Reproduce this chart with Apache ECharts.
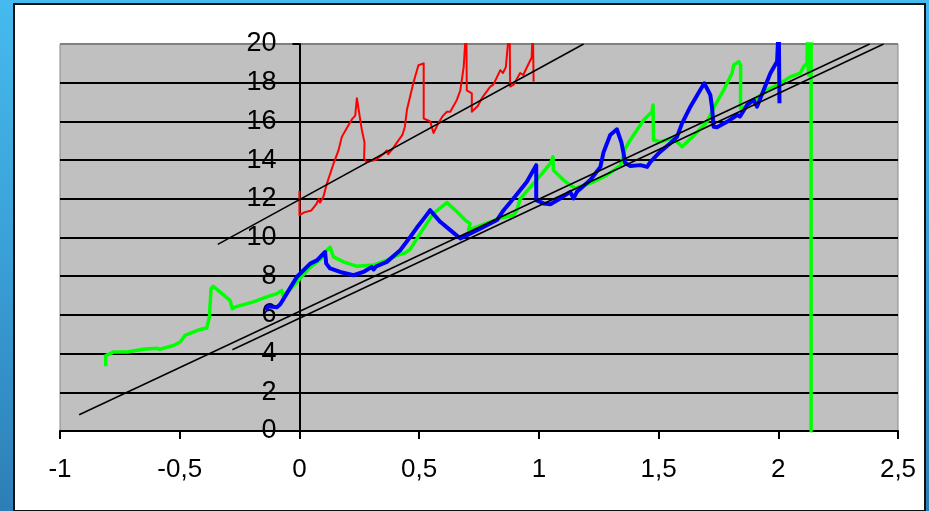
<!DOCTYPE html>
<html>
<head>
<meta charset="utf-8">
<script src="https://cdn.jsdelivr.net/npm/echarts@6/dist/echarts.min.js"></script>
<style>
  html, body { margin: 0; padding: 0; }
  body { width: 929px; height: 511px; overflow: hidden;
         background: linear-gradient(180deg, #45baee 0%, #3aa0d6 50%, #2c7fb6 100%); position: relative; }
  #panel { position: absolute; left: 13px; top: 3px; width: 909px; height: 505px;
           background: #ffffff; border: 2px solid #111; }
  #chart { position: absolute; left: 0; top: 0; width: 929px; height: 511px; }
</style>
</head>
<body>
<div id="panel"></div>
<div id="chart"></div>
<script>
// ---- data ----
const xTicks = [-1, -0.5, 0, 0.5, 1, 1.5, 2, 2.5];
const yTicks = [0, 2, 4, 6, 8, 10, 12, 14, 16, 18, 20];

const redPts = [
  [0,12.4],[0,11.15],[0.02,11.3],[0.05,11.4],[0.072,11.75],[0.08,12.0],[0.086,11.8],[0.1,12.1],
  [0.115,12.8],[0.142,13.8],[0.163,14.5],[0.177,15.2],[0.2,15.7],[0.219,16.1],[0.233,16.3],
  [0.24,17.2],[0.245,16.8],[0.26,15.6],[0.272,14.9],[0.27,14.1],[0.28,13.9],[0.316,14.0],
  [0.35,14.3],[0.365,14.5],[0.37,14.3],[0.39,14.6],[0.407,14.9],[0.43,15.3],[0.44,15.7],
  [0.449,16.6],[0.476,18.0],[0.497,18.9],[0.519,19.0],[0.519,16.15],[0.546,16.0],[0.56,15.4],
  [0.58,15.9],[0.6,16.3],[0.616,16.5],[0.63,16.5],[0.657,17.1],[0.672,17.6],[0.686,18.8],
  [0.697,21],[0.699,17.6],[0.72,17.45],[0.72,16.5],[0.745,16.8],[0.762,17.2],[0.797,17.8],
  [0.81,17.9],[0.839,18.65],[0.85,18.5],[0.862,18.8],[0.878,21],[0.88,17.8],[0.895,17.9],
  [0.922,18.5],[0.935,18.4],[0.95,18.8],[0.97,19.3],[0.975,21],[0.978,18.05]
];

const greenPts = [
  [-0.809,3.34],[-0.809,3.9],[-0.777,4.08],[-0.72,4.08],[-0.652,4.22],[-0.596,4.28],[-0.584,4.22],
  [-0.526,4.42],[-0.498,4.6],[-0.478,4.94],[-0.415,5.25],[-0.387,5.32],[-0.376,5.9],[-0.369,7.36],
  [-0.36,7.48],[-0.29,6.75],[-0.28,6.32],[-0.27,6.4],[-0.192,6.67],[-0.136,6.93],[-0.094,7.1],
  [-0.074,7.27],[-0.07,7.0],[-0.04,7.3],[-0.011,7.7],[0.04,8.4],[0.09,8.9],[0.114,9.34],
  [0.128,9.5],[0.142,9.0],[0.184,8.74],[0.24,8.51],[0.295,8.57],[0.309,8.57],[0.36,8.8],
  [0.407,9.08],[0.442,9.2],[0.463,9.4],[0.504,10.2],[0.56,11.24],[0.616,11.8],[0.658,11.33],
  [0.692,10.9],[0.713,10.72],[0.706,10.38],[0.741,10.55],[0.839,11.0],[0.894,11.15],[0.908,11.41],
  [0.922,12.0],[0.978,12.8],[1.02,13.4],[1.048,13.83],[1.059,14.17],[1.061,13.48],[1.103,12.97],
  [1.131,12.71],[1.152,12.54],[1.229,12.88],[1.285,13.22],[1.326,13.6],[1.34,13.7],[1.361,14.6],
  [1.382,15.04],[1.438,16.07],[1.473,16.5],[1.477,16.85],[1.479,15.04],[1.507,14.95],[1.556,15.12],
  [1.584,14.87],[1.598,14.69],[1.65,15.3],[1.702,15.98],[1.737,16.85],[1.772,17.62],[1.807,18.49],
  [1.814,18.92],[1.835,19.09],[1.843,18.9],[1.842,16.68],[1.87,16.8],[1.91,17.2],[1.953,17.62],
  [2.0,17.9],[2.05,18.3],[2.092,18.49],[2.106,18.83],[2.12,19.0],[2.122,20.5],[2.126,18.4],
  [2.13,20.5],[2.134,18.5],[2.137,20.5],[2.137,0],[2.143,0]
];

const bluePts = [
  [-0.14,6.24],[-0.13,6.45],[-0.094,6.4],[-0.08,6.55],[-0.053,7.1],[-0.011,7.96],[0.045,8.65],
  [0.073,8.82],[0.107,9.25],[0.112,8.65],[0.128,8.4],[0.17,8.22],[0.226,8.05],[0.267,8.22],
  [0.302,8.48],[0.31,8.35],[0.32,8.5],[0.365,8.74],[0.421,9.34],[0.463,10.03],[0.49,10.5],
  [0.518,10.95],[0.546,11.41],[0.588,10.81],[0.63,10.38],[0.672,9.95],[0.7,10.12],[0.769,10.55],
  [0.825,10.9],[0.853,11.41],[0.894,12.02],[0.95,12.88],[0.989,13.74],[0.989,11.93],[1.02,11.76],
  [1.048,11.72],[1.089,12.02],[1.131,12.36],[1.145,12.02],[1.159,12.36],[1.215,12.97],[1.257,13.65],
  [1.27,14.4],[1.298,15.3],[1.326,15.59],[1.345,14.9],[1.356,14.2],[1.36,13.85],[1.382,13.69],
  [1.424,13.74],[1.452,13.65],[1.466,13.91],[1.5,14.35],[1.549,14.87],[1.577,15.2],[1.598,15.9],
  [1.633,16.76],[1.674,17.62],[1.691,17.97],[1.716,17.37],[1.723,16.76],[1.73,15.72],[1.744,15.7],
  [1.786,15.98],[1.828,16.33],[1.84,16.25],[1.87,16.85],[1.897,17.11],[1.911,16.76],[1.939,17.62],
  [1.967,18.49],[1.995,19.09],[2.002,21],[2.005,16.94]
];

const trendRed = [[-0.341,9.64],[1.187,20]];
const trendA = [[-0.92,0.84],[2.382,20]];
const trendB = [[-0.28,4.2],[2.44,20]];

const FONT = '"Liberation Sans", Arial, sans-serif';

const chart = echarts.init(document.getElementById('chart'), null, { renderer: 'canvas' });

function lineSeries(data, color, width, z) {
  return {
    type: 'line', data: data, showSymbol: false, symbol: 'none', clip: true,
    lineStyle: { color: color, width: width, join: 'round' }, z: z,
    animation: false, silent: true
  };
}

const splitColors = yTicks.map((v, i) => (i === yTicks.length - 1 ? '#808080' : '#000000'));

// grid geometry
const gridLeft = 60, gridRight = 31, gridWidth = 929 - gridLeft - gridRight;
const yAxisOffset = -gridWidth * (0 - xTicks[0]) / (xTicks[xTicks.length - 1] - xTicks[0]);

chart.setOption({
  backgroundColor: 'transparent',
  animation: false,
  grid: {
    left: gridLeft, right: gridRight, top: 44, bottom: 80,
    show: true, backgroundColor: '#c0c0c0', borderColor: '#888888', borderWidth: 1
  },
  xAxis: {
    type: 'value', min: xTicks[0], max: xTicks[xTicks.length - 1], interval: 0.5,
    splitLine: { show: false },
    axisLine: { show: true, onZero: false, lineStyle: { color: '#000', width: 2 } },
    axisTick: { show: true, inside: false, length: 8, lineStyle: { color: '#000', width: 2 } },
    axisLabel: {
      fontFamily: FONT, fontSize: 26, color: '#000', margin: 26,
      formatter: v => String(v).replace('.', ',')
    }
  },
  yAxis: {
    type: 'value', min: yTicks[0], max: yTicks[yTicks.length - 1], interval: 2,
    position: 'left', offset: yAxisOffset,
    axisLine: { show: true, onZero: false, lineStyle: { color: '#000', width: 2 } },
    axisTick: { show: true, inside: false, length: 7, lineStyle: { color: '#000', width: 2 } },
    splitLine: { show: true, lineStyle: { color: splitColors, width: 2 } },
    axisLabel: { fontFamily: FONT, fontSize: 27, color: '#000', margin: 23 }
  },
  series: [
    lineSeries(redPts, '#ff0000', 2, 3),
    lineSeries(greenPts, '#00ff00', 3.5, 4),
    lineSeries(bluePts, '#0000ff', 4, 5),
    lineSeries(trendRed, '#000000', 1.5, 6),
    lineSeries(trendA, '#000000', 1.5, 6),
    lineSeries(trendB, '#000000', 1.5, 6)
  ]
});
</script>
</body>
</html>
